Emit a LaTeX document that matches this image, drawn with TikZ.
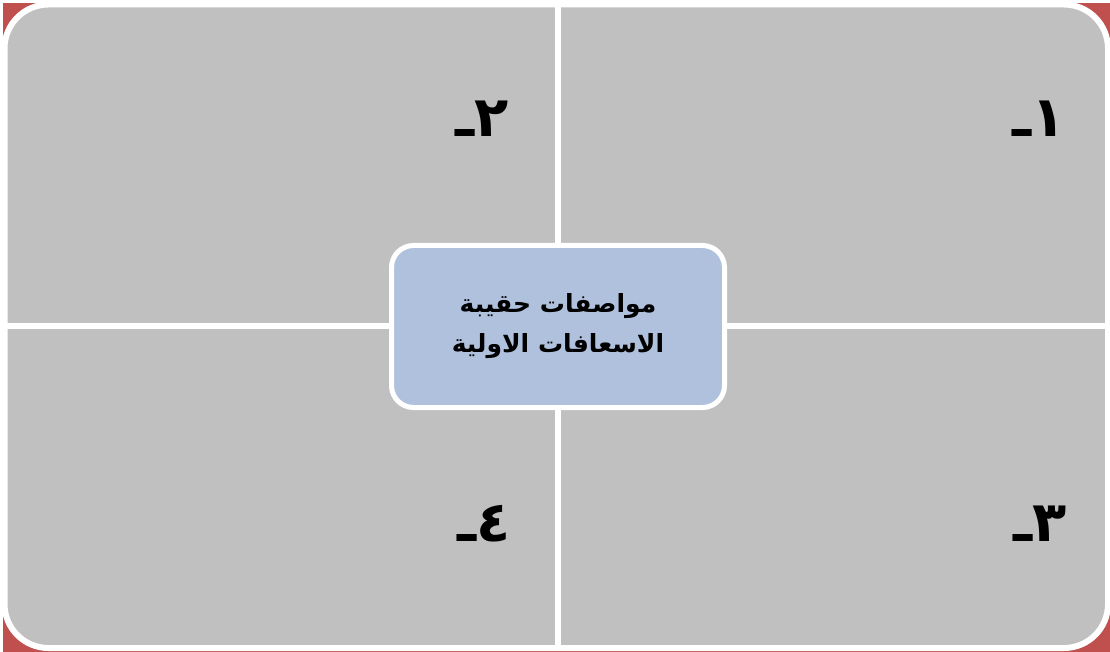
\documentclass[tikz,border=0pt]{standalone}
\usepackage{fontspec}
\newfontfamily\arabicfont[Script=Arabic]{DejaVu Sans}
\TeXXeTstate=1
\definecolor{framered}{HTML}{C0504D}
\definecolor{quadgray}{HTML}{C0C0C0}
\definecolor{centreblue}{HTML}{B0C1DE}
\begin{document}
\begin{tikzpicture}[x=1pt,y=-1pt,
    quad/.style={draw=white, line width=6pt, fill=quadgray, rounded corners=44pt},
    sep/.style={white, line width=6pt},
    centrebox/.style={draw=white, line width=5pt, fill=centreblue, rounded corners=22pt,
        minimum width=333pt, minimum height=162pt, align=center,
        font=\arabicfont\bfseries\fontsize{25}{40}\selectfont},
    num/.style={anchor=base east, inner sep=0pt,
        font=\arabicfont\bfseries\fontsize{56}{60}\selectfont}]
    \useasboundingbox (0,0) rectangle (1110,652);

    % Background
    \fill[framered] (3,3) rectangle (1110,652);

    % Quadrants
    \draw[quad] (4.5,4.5) rectangle (1108,648);
    \draw[sep] (558,4.5) -- (558,648);
    \draw[sep] (4.5,326) -- (1108,326);

    % Centre
    \node[centrebox] (title) at (558,326.5)
        {\beginR مواصفات حقيبة\endR\\\beginR الاسعافات الاولية\endR};

    % Labels
    \node[num] (n1) at (1066,137) {\beginR ١ـ\endR};
    \node[num] (n2) at (509,137) {\beginR ٢ـ\endR};
    \node[num] (n3) at (1067,541) {\beginR ٣ـ\endR};
    \node[num] (n4) at (511,541) {\beginR ٤ـ\endR};
\end{tikzpicture}
\end{document}
